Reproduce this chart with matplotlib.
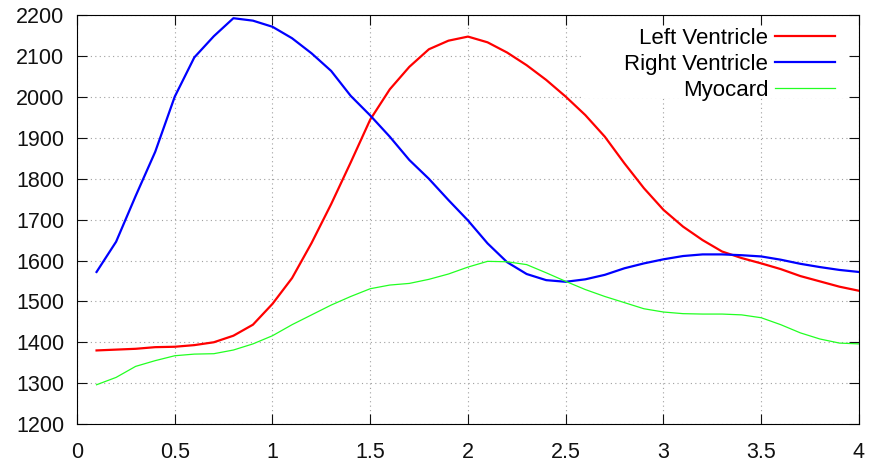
import matplotlib
matplotlib.use("Agg")
import matplotlib.pyplot as plt
from matplotlib.patches import Rectangle
import numpy as np

# sampling times
t = np.round(np.arange(1, 41) * 0.1, 1)

left_ventricle = [1380, 1382, 1384, 1388, 1389, 1393, 1400, 1416, 1443, 1494,
                  1557, 1643, 1738, 1840, 1945, 2019, 2074, 2117, 2138, 2148,
                  2134, 2109, 2078, 2042, 2001, 1956, 1903, 1838, 1777, 1724,
                  1683, 1650, 1622, 1606, 1593, 1579, 1562, 1549, 1536, 1526]
right_ventricle = [1572, 1646, 1758, 1866, 2001, 2097, 2149, 2193, 2187, 2172,
                   2144, 2107, 2064, 2003, 1955, 1903, 1846, 1800, 1748, 1698,
                   1642, 1596, 1567, 1552, 1548, 1554, 1565, 1581, 1593, 1603,
                   1611, 1615, 1615, 1613, 1610, 1602, 1592, 1584, 1577, 1572]
myocard = [1296, 1314, 1341, 1355, 1367, 1371, 1372, 1381, 1396, 1416,
           1443, 1467, 1491, 1512, 1531, 1540, 1544, 1554, 1567, 1584,
           1598, 1597, 1590, 1570, 1549, 1529, 1512, 1497, 1482, 1474,
           1470, 1469, 1469, 1467, 1460, 1443, 1423, 1408, 1398, 1396]

plt.rcParams['font.family'] = ['Liberation Sans', 'DejaVu Sans']

fig = plt.figure(figsize=(8.81, 4.65), dpi=100)
ax = fig.add_axes([0.0874, 0.0882, 0.975 - 0.0874, 0.967 - 0.0882])

ax.plot(t, left_ventricle, color='#ff0000', lw=1.6, label='Left Ventricle')
ax.plot(t, right_ventricle, color='#0000ff', lw=1.6, label='Right Ventricle')
ax.plot(t, myocard, color='#22ff22', lw=0.9, label='Myocard')

ax.set_xlim(0, 4)
ax.set_ylim(1200, 2200)
ax.set_xticks(np.arange(0, 4.01, 0.5))
ax.set_xticklabels(['0', '0.5', '1', '1.5', '2', '2.5', '3', '3.5', '4'])
ax.set_yticks(np.arange(1200, 2201, 100))

ax.grid(True, color='#a0a0a0', linestyle=(0, (1, 3)), linewidth=0.8)
ax.tick_params(direction='in', length=7, width=0.8, top=True, right=True,
               labelsize=15.5, colors='#111111')
ax.tick_params(axis='x', pad=13)
ax.tick_params(axis='y', pad=9)
for sp in ax.spines.values():
    sp.set_linewidth(0.8)

# white key area that hides the grid behind the legend (gnuplot style)
ax.add_patch(Rectangle((0.647, 0.798), 0.339, 0.176, transform=ax.transAxes,
                       facecolor='white', edgecolor='none', zorder=1.8))

leg = ax.legend(loc='upper right', bbox_to_anchor=(0.972, 0.975),
                markerfirst=False, frameon=False,
                fontsize=16, handlelength=2.7, handletextpad=0.3,
                labelspacing=0.22, borderpad=0.1, borderaxespad=0)

fig.savefig('out.png', dpi=100)
